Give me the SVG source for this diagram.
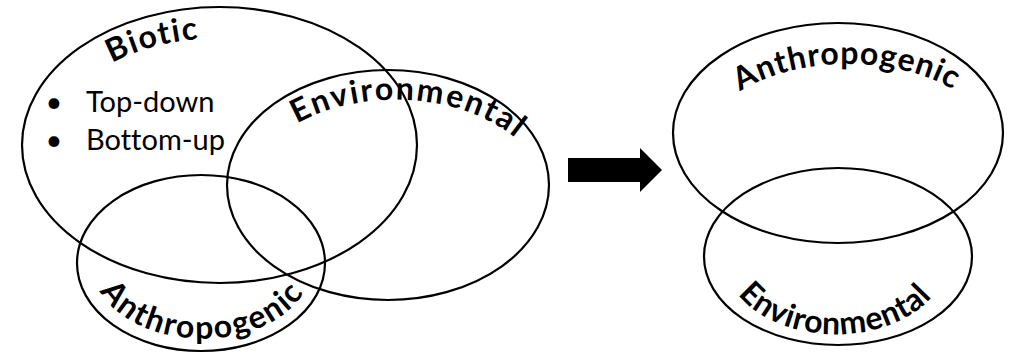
<svg xmlns="http://www.w3.org/2000/svg" width="1013" height="354" viewBox="0 0 1013 354">
  <style>
    .ring { fill: none; stroke: #000; stroke-width: 2.2; }
    .arch { font-family: Lato, "Open Sans", sans-serif; font-weight: 700; font-size: 32px; fill: #000; font-variant-ligatures: none; }
    .bul { font-family: Lato, "Open Sans", sans-serif; font-size: 29px; fill: #000; font-variant-ligatures: none; }
  </style>
  <defs>
    <path id="pBiotic" d="M112,63 A170,108 0 0 1 198,39"/>
    <path id="pEnvL" d="M297,123.6 A155,105 0 0 1 514,137"/>
    <path id="pAnthL" d="M100,291 A110,75 0 0 0 306,289"/>
    <path id="pAnthR" d="M740,91.6 A150,90 0 0 1 957,92"/>
    <path id="pEnvR" d="M738,294.5 A112,77 0 0 0 936,292"/>
  </defs>
  <rect width="1013" height="354" fill="#fff"/>

  <g id="biotic">
    <ellipse class="ring" cx="219.5" cy="145" rx="197.5" ry="138"/>
    <text class="arch"><textPath href="#pBiotic" textLength="90" lengthAdjust="spacing">Biotic</textPath></text>
    <text class="bul" x="54" y="112" text-anchor="middle">•</text>
    <text class="bul" x="86" y="112">Top-down</text>
    <text class="bul" x="54" y="150" text-anchor="middle">•</text>
    <text class="bul" x="86" y="150">Bottom-up</text>
  </g>

  <g id="environmental-left">
    <ellipse class="ring" cx="388" cy="185" rx="161" ry="115"/>
    <text class="arch"><textPath href="#pEnvL" textLength="230" lengthAdjust="spacing">Environmental</textPath></text>
  </g>

  <g id="anthropogenic-left">
    <ellipse class="ring" cx="201" cy="263" rx="124" ry="88"/>
    <text class="arch"><textPath href="#pAnthL" textLength="233" lengthAdjust="spacing">Anthropogenic</textPath></text>
  </g>

  <g id="anthropogenic-right">
    <ellipse class="ring" cx="838" cy="133" rx="165" ry="110"/>
    <text class="arch"><textPath href="#pAnthR" textLength="222" lengthAdjust="spacing">Anthropogenic</textPath></text>
  </g>

  <g id="environmental-right">
    <ellipse class="ring" cx="838" cy="256.5" rx="134" ry="88.5"/>
    <text class="arch"><textPath href="#pEnvR" textLength="215" lengthAdjust="spacing">Environmental</textPath></text>
  </g>

  <g id="connectors">
    <polygon points="568,158 640,158 640,148 662,170 640,192 640,182 568,182" fill="#000"/>
  </g>
</svg>
